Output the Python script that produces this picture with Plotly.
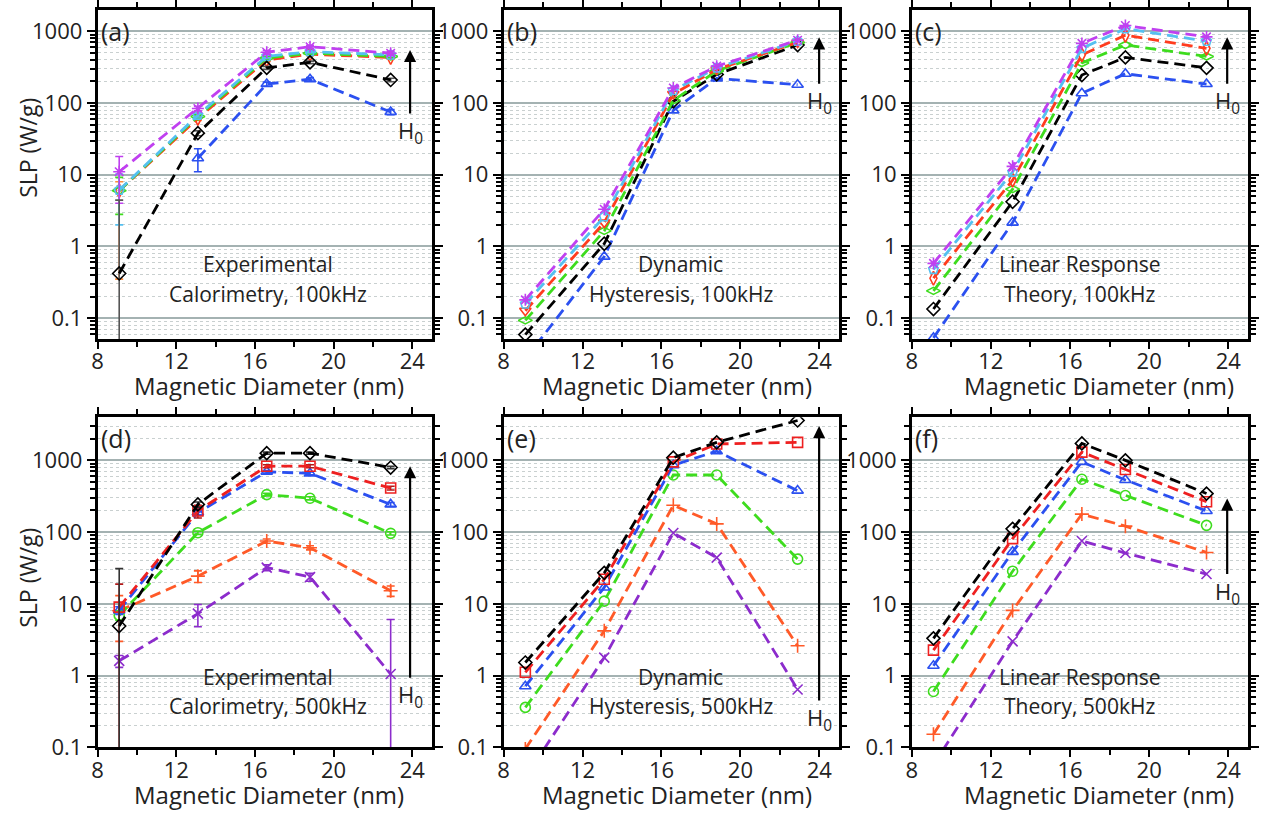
import plotly.graph_objects as go

# ---------------- data ----------------
diameters = [9.1, 13.1, 16.6, 18.8, 22.9]

# (a) Experimental calorimetry, 100 kHz
a_blue = [None, 17, 184, 215, 75]
a_black = [0.42, 38, 310, 370, 210]
a_green = [6.0, 65, 424, 496, 447]
a_orange = [6.0, 61, 400, 480, 432]
a_cyan = [6.1, 68, 447, 522, 470]
a_magenta = [11, 84, 512, 611, 496]
a_blue_err = [0, 6, 12, 12, 6]
a_black_err_plus = [4.0, 3, 15, 15, 12]
a_black_err_minus = [1.0, 3, 15, 15, 12]
a_green_err = [3.2, 4, 20, 20, 20]
a_orange_err_plus = [2.0, 4, 20, 20, 20]
a_orange_err_minus = [5.65, 4, 20, 20, 20]
a_cyan_err = [4.1, 4, 20, 20, 20]
a_magenta_err = [7, 6, 30, 30, 30]

# (b) Dynamic hysteresis, 100 kHz
b_blue = [0.027, 0.72, 79, 221, 180]
b_black = [0.059, 1.09, 106, 251, 645]
b_green = [0.093, 1.65, 109, 280, 700]
b_red = [0.127, 2.15, 134, 294, 700]
b_cyan = [0.158, 2.6, 150, 310, 730]
b_magenta = [0.18, 3.3, 162, 327, 753]

# (c) Linear response theory, 100 kHz
c_blue = [0.053, 2.15, 137, 256, 184]
c_black = [0.134, 4.2, 246, 433, 310]
c_green = [0.24, 6.3, 362, 645, 447]
c_red = [0.36, 8.4, 471, 882, 580]
c_cyan = [0.48, 10.9, 580, 1087, 730]
c_magenta = [0.58, 13.1, 680, 1207, 837]

# (d) Experimental calorimetry, 500 kHz
d_black = [4.9, 243, 1259, 1259, 794]
d_red = [9.0, 197, 828, 828, 411]
d_blue = [8.1, 187, 693, 658, 243]
d_green = [6.9, 98, 333, 296, 96]
d_orange = [8.0, 24.3, 75, 60.5, 15.2]
d_purple = [1.6, 7.3, 32, 23.6, 1.05]
d_black_err = [26, 20, 40, 40, 30]
d_red_err = [9.8, 40, 40, 40, 25]
d_blue_err = [1, 15, 30, 30, 15]
d_green_err = [1, 5, 15, 15, 5]
d_orange_err = [5, 4.5, 5, 4, 2.5]
d_purple_err = [0.3, 2.5, 3, 3, 5]

# (e) Dynamic hysteresis, 500 kHz
e_black = [1.52, 27, 1087, 1780, 3590]
e_red = [1.11, 22, 950, 1690, 1780]
e_blue = [0.71, 16.9, 855, 1340, 378]
e_green = [0.36, 10.9, 624, 624, 42]
e_orange = [0.095, 4.2, 236, 130, 2.6]
e_purple = [0.038, 1.78, 97, 44, 0.64]

# (f) Linear response theory, 500 kHz
f_black = [3.3, 111, 1720, 1000, 344]
f_red = [2.26, 81, 1300, 746, 265]
f_blue = [1.37, 53, 950, 533, 197]
f_green = [0.6, 28.5, 545, 323, 124]
f_orange = [0.152, 8.1, 178, 121, 52]
f_purple = [0.057, 3.0, 75, 51, 26]

panel_letters = ["(a)", "(b)", "(c)", "(d)", "(e)", "(f)"]
panel_texts = [
    ["Experimental", "Calorimetry, 100kHz"],
    ["Dynamic", "Hysteresis, 100kHz"],
    ["Linear Response", "Theory, 100kHz"],
    ["Experimental", "Calorimetry, 500kHz"],
    ["Dynamic", "Hysteresis, 500kHz"],
    ["Linear Response", "Theory, 500kHz"],
]
x_ticks = [8, 12, 16, 20, 24]
x_minor = [10, 14, 18, 22]
y_ticks = [0.1, 1, 10, 100, 1000]
y_ticklabels = ["0.1", "1", "10", "100", "1000"]
y_minor = [k * 10.0 ** e for e in range(-2, 4) for k in range(2, 10)]
x_title = "Magnetic Diameter (nm)"
y_title = "SLP (W/g)"
arrow_label = "H<sub>0</sub>"

# ---------------- styles ----------------
BLACK = "#000000"
BLUE = "#2b50f0"
GREEN = "#3edc1e"
RED1 = "#ff3c1e"
CYAN = "#55c0f0"
MAGENTA = "#c040f0"
RED = "#ee2020"
ORANGE = "#ff5a28"
PURPLE = "#8c2ccc"
FONT = "Open Sans"
TXT = "#222222"
DASH = "11px,6px"

W, H = 1266, 824
cols_px = [(92, 428), (500, 837), (910, 1248)]
rows_px = [(7, 343), (423, 760)]
yranges = [[-1.29, 3.30], [-1.0, 3.6]]


def px(x):
    return x / W


def py(y):
    return 1 - y / H


fig = go.Figure()


def add(idx, y, color, symbol, err=None, errm=None, errcolor=None, size=10):
    kw = {}
    if err is not None:
        kw["error_y"] = dict(type="data", array=err,
                             arrayminus=errm if errm is not None else err,
                             visible=True, color=errcolor or color,
                             thickness=1.6, width=4)
    fig.add_trace(go.Scatter(
        x=diameters, y=y, mode="lines+markers",
        line=dict(color=color, width=2.8, dash=DASH),
        marker=dict(symbol=symbol, size=size, color=color,
                    line=dict(color=color, width=1.6)),
        xaxis="x" + ("" if idx == 1 else str(idx)),
        yaxis="y" + ("" if idx == 1 else str(idx)),
        showlegend=False, connectgaps=False, cliponaxis=True, **kw))


# (a)
add(1, a_blue, BLUE, "triangle-up-open", a_blue_err)
add(1, a_orange, RED1, "diamond-tall-open", a_orange_err_plus, a_orange_err_minus, "#ff8c3c")
add(1, a_green, GREEN, "diamond-wide-open", a_green_err)
add(1, a_cyan, CYAN, "pentagon-open", a_cyan_err)
add(1, a_magenta, MAGENTA, "asterisk-open", a_magenta_err)
add(1, a_black, BLACK, "diamond-open", a_black_err_plus, a_black_err_minus, "#555555")
# (b)
add(2, b_blue, BLUE, "triangle-up-open")
add(2, b_black, BLACK, "diamond-open")
add(2, b_green, GREEN, "diamond-wide-open")
add(2, b_red, RED1, "triangle-down-open")
add(2, b_cyan, CYAN, "pentagon-open")
add(2, b_magenta, MAGENTA, "asterisk-open")
# (c)
add(3, c_blue, BLUE, "triangle-up-open")
add(3, c_black, BLACK, "diamond-open")
add(3, c_green, GREEN, "diamond-wide-open")
add(3, c_red, RED1, "diamond-tall-open")
add(3, c_cyan, CYAN, "pentagon-open")
add(3, c_magenta, MAGENTA, "asterisk-open")
# (d)
add(4, d_purple, PURPLE, "x-thin-open", d_purple_err)
add(4, d_orange, ORANGE, "cross-thin-open", d_orange_err)
add(4, d_green, GREEN, "circle-open", d_green_err)
add(4, d_blue, BLUE, "triangle-up-open", d_blue_err)
add(4, d_red, RED, "square-open", d_red_err, None, "#b01818")
add(4, d_black, BLACK, "diamond-open", d_black_err, None, "#333333")
# (e)
add(5, e_purple, PURPLE, "x-thin-open")
add(5, e_orange, ORANGE, "cross-thin-open")
add(5, e_green, GREEN, "circle-open")
add(5, e_blue, BLUE, "triangle-up-open")
add(5, e_red, RED, "square-open")
add(5, e_black, BLACK, "diamond-open")
# (f)
add(6, f_purple, PURPLE, "x-thin-open")
add(6, f_orange, ORANGE, "cross-thin-open")
add(6, f_green, GREEN, "circle-open")
add(6, f_blue, BLUE, "triangle-up-open")
add(6, f_red, RED, "square-open")
add(6, f_black, BLACK, "diamond-open")

layout = dict(
    width=W, height=H, margin=dict(l=0, r=0, t=0, b=0),
    paper_bgcolor="white", plot_bgcolor="white",
    font=dict(family=FONT, size=21, color=TXT),
    showlegend=False,
)
annotations = []
arrows = [  # (x px, head y px, label center y px)
    (406, 48, 130),
    (817, 35, 100),
    (1227, 35, 100),
    (406, 473, 703),
    (817, 432, 725),
    (1227, 506, 600),
]
text_centers = [(263, 267), (678, 267), (1079, 267), (263, 688), (678, 688), (1079, 688)]
xtitle_centers = [(264, 391), (674, 391), (1098, 391), (264, 808), (674, 808), (1098, 808)]

for i in range(6):
    r, c = divmod(i, 3)
    x0, x1 = cols_px[c]
    y0, y1 = rows_px[r]
    sfx = "" if i == 0 else str(i + 1)
    axcommon = dict(showline=True, linecolor="black", linewidth=2.6, mirror="allticks",
                    ticks="outside", tickwidth=2, tickcolor="black",
                    tickfont=dict(family=FONT, size=22, color=TXT), zeroline=False)
    layout["xaxis" + sfx] = dict(
        domain=[px(x0), px(x1)], anchor="y" + sfx, range=[8, 25],
        tickmode="array", tickvals=x_ticks, ticklen=7, showgrid=False,
        ticklabelstandoff=-6,
        minor=dict(tickmode="array", tickvals=x_minor, ticks="outside", ticklen=5,
                   tickwidth=2, tickcolor="black", showgrid=False),
        **axcommon)
    layout["yaxis" + sfx] = dict(
        domain=[py(y1), py(y0)], anchor="x" + sfx, type="log", range=yranges[r],
        tickmode="array", tickvals=y_ticks, ticktext=y_ticklabels, ticklen=8,
        showgrid=True, gridcolor="#a4b2b2", gridwidth=1.8,
        minor=dict(tickmode="array", tickvals=y_minor, ticks="outside", ticklen=5,
                   tickwidth=1.5, tickcolor="black", showgrid=True,
                   gridcolor="#c9d0d0", gridwidth=1, griddash="dot"),
        **axcommon)

    # panel letter
    annotations.append(dict(text=panel_letters[i], xref="paper", yref="paper",
                            x=px(x0 + 1), y=py(y0 + 2), xanchor="left", yanchor="top",
                            showarrow=False, font=dict(size=25, color=TXT)))
    # description
    tx, ty = text_centers[i]
    annotations.append(dict(text=panel_texts[i][0], xref="paper", yref="paper",
                            x=px(tx), y=py(ty), xanchor="center", yanchor="middle",
                            showarrow=False, font=dict(size=21, color=TXT)))
    annotations.append(dict(text=panel_texts[i][1], xref="paper", yref="paper",
                            x=px(tx), y=py(ty + 30), xanchor="center", yanchor="middle",
                            showarrow=False, font=dict(size=21, color=TXT)))
    # x title
    xtx, xty = xtitle_centers[i]
    annotations.append(dict(text=x_title, xref="paper", yref="paper",
                            x=px(xtx), y=py(xty), xanchor="center", yanchor="middle",
                            showarrow=False, font=dict(size=24, color=TXT)))
    # H0 arrow (label sits at the arrow tail)
    ax_, hy, ly = arrows[i]
    annotations.append(dict(text=arrow_label, xref="paper", yref="paper", x=px(ax_), y=py(hy),
                            ax=0, ay=ly - hy, axref="pixel", ayref="pixel",
                            showarrow=True, arrowhead=2, arrowsize=1.1, arrowwidth=2.2,
                            arrowcolor="black", standoff=0, startstandoff=0,
                            font=dict(size=22, color=TXT)))

# y titles
annotations.append(dict(text=y_title, xref="paper", yref="paper", x=px(22), y=py(148),
                        xanchor="center", yanchor="middle", textangle=-90, showarrow=False,
                        font=dict(size=23, color=TXT)))
annotations.append(dict(text=y_title, xref="paper", yref="paper", x=px(22), y=py(587),
                        xanchor="center", yanchor="middle", textangle=-90, showarrow=False,
                        font=dict(size=23, color=TXT)))
layout["annotations"] = annotations
fig.update_layout(**layout)
fig.write_html("out.html")
